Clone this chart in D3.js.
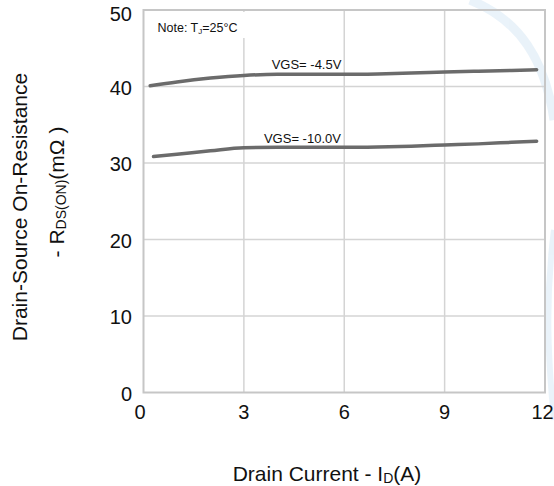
<!DOCTYPE html>
<html>
<head>
<meta charset="utf-8">
<script src="https://cdn.jsdelivr.net/npm/d3@7"></script>
<style>
  html, body { margin: 0; padding: 0; background: #fff; }
  svg { display: block; font-family: Arial, "Liberation Sans", sans-serif; }
</style>
</head>
<body>
<div id="chart"></div>
<script>
// Data: drain current (A) vs RDS(ON) (mOhm)
const xTicks = [0, 3, 6, 9, 12];
const yTicks = [0, 10, 20, 30, 40, 50];

const vgs45Current = [0.2, 1, 2, 3, 4, 5, 6, 7, 8, 9, 10, 11, 11.75];
const vgs45Rds     = [40.1, 40.6, 41.1, 41.45, 41.6, 41.6, 41.6, 41.65, 41.75, 41.9, 42.0, 42.1, 42.2];

const vgs10Current = [0.3, 1, 2, 3, 4, 5, 6, 7, 8, 9, 10, 11, 11.75];
const vgs10Rds     = [30.85, 31.15, 31.6, 32.0, 32.05, 32.05, 32.05, 32.1, 32.2, 32.35, 32.5, 32.7, 32.85];

const curveNames  = ["VGS= -4.5V", "VGS= -10.0V"];
const labelAt     = [[3.83, 42.25], [3.6, 32.57]];

const series = [
    { name: curveNames[0], pts: vgs45Current.map((x, i) => [x, vgs45Rds[i]]), label: labelAt[0] },
    { name: curveNames[1], pts: vgs10Current.map((x, i) => [x, vgs10Rds[i]]), label: labelAt[1] }
];

const W = 554, H = 486;
const svg = d3.select("#chart").append("svg")
    .attr("width", W)
    .attr("height", H);

// faint watermark swoosh at the right edge
const wm = svg.append("g").attr("fill", "none").attr("stroke", "#dcebf6").attr("stroke-width", 9).attr("opacity", 0.6);
wm.append("path").attr("d", "M470,0 C520,20 545,60 554,120");
wm.append("path").attr("d", "M554,230 C545,300 548,360 554,420").attr("stroke-width", 6);

const x = d3.scaleLinear().domain([0, 12]).range([143.5, 545]);
const y = d3.scaleLinear().domain([0, 50]).range([392.5, 10]);

// grid
const grid = svg.append("g").attr("stroke", "#d4d4d4").attr("stroke-width", 1.5);
grid.selectAll(".vx").data(xTicks.slice(1, -1)).join("line")
    .attr("x1", d => x(d)).attr("x2", d => x(d))
    .attr("y1", y(50)).attr("y2", y(0));
grid.selectAll(".hy").data(yTicks.slice(1, -1)).join("line")
    .attr("x1", x(0)).attr("x2", x(12))
    .attr("y1", d => y(d)).attr("y2", d => y(d));

// note box hides the grid behind it
svg.append("rect")
    .attr("x", x(0) + 2).attr("y", y(50) + 2)
    .attr("width", 101).attr("height", 26)
    .attr("fill", "#fff");

const note = svg.append("text")
    .attr("x", 157.5).attr("y", 31.5)
    .attr("font-size", 12.5).attr("fill", "#111");
note.append("tspan").text("Note: T");
note.append("tspan").attr("font-size", 8).attr("dy", 2).text("J");
note.append("tspan").attr("dy", -2).text("=25°C");

// frame
svg.append("rect")
    .attr("x", x(0)).attr("y", y(50))
    .attr("width", x(12) - x(0)).attr("height", y(0) - y(50))
    .attr("fill", "none").attr("stroke", "#c6c6c6").attr("stroke-width", 2);

// curves
const line = d3.line()
    .x(d => x(d[0]))
    .y(d => y(d[1]))
    .curve(d3.curveMonotoneX);

svg.append("g").selectAll("path").data(series).join("path")
    .attr("d", d => line(d.pts))
    .attr("fill", "none")
    .attr("stroke", "#6b6b6b")
    .attr("stroke-width", 3.5)
    .attr("stroke-linecap", "round");

svg.append("g").selectAll("text").data(series).join("text")
    .attr("x", d => x(d.label[0]))
    .attr("y", d => y(d.label[1]))
    .attr("font-size", 13)
    .attr("fill", "#111")
    .text(d => d.name);

// tick labels
svg.append("g").selectAll("text").data(yTicks).join("text")
    .attr("x", 132)
    .attr("y", d => y(d) + (d === 50 ? 4 : 1))
    .attr("dy", "0.35em")
    .attr("text-anchor", "end")
    .attr("font-size", 20)
    .attr("fill", "#111")
    .text(d => d);

svg.append("g").selectAll("text").data(xTicks).join("text")
    .attr("x", d => x(d) + (d === 0 ? -3.5 : d === 12 ? -2.5 : 0))
    .attr("y", 419)
    .attr("text-anchor", "middle")
    .attr("font-size", 20)
    .attr("fill", "#111")
    .text(d => d);

// axis titles
svg.append("text")
    .attr("transform", "translate(27,207) rotate(-90)")
    .attr("text-anchor", "middle")
    .attr("font-size", 21)
    .attr("fill", "#111")
    .text("Drain-Source On-Resistance");

const yt2 = svg.append("text")
    .attr("transform", "translate(63.5,192) rotate(-90)")
    .attr("text-anchor", "middle")
    .attr("font-size", 21)
    .attr("fill", "#111");
yt2.append("tspan").text("-  R");
yt2.append("tspan").attr("font-size", 14).attr("dy", 2).text("DS(ON)");
yt2.append("tspan").attr("dy", -2).text("(mΩ )");

const xt = svg.append("text")
    .attr("x", 327).attr("y", 481)
    .attr("text-anchor", "middle")
    .attr("font-size", 21)
    .attr("fill", "#111");
xt.append("tspan").text("Drain Current -  I");
xt.append("tspan").attr("font-size", 14).attr("dy", 2).text("D");
xt.append("tspan").attr("dy", -2).text("(A)");
</script>
</body>
</html>
